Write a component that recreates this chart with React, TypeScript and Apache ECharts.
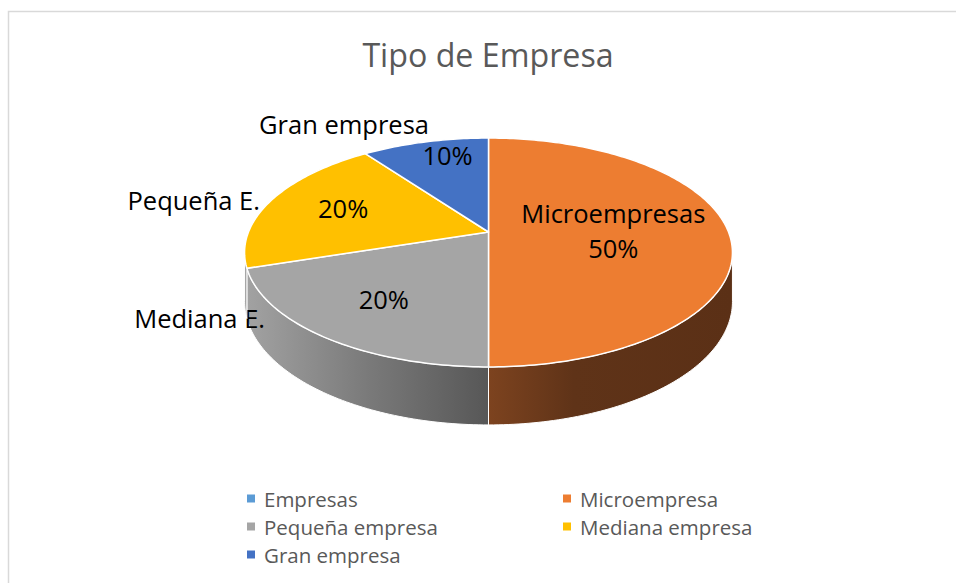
import React, { useEffect, useRef } from 'react';
import * as echarts from 'echarts';

// ---- data ----
const legendNames = ['Empresas', 'Microempresa', 'Pequeña empresa', 'Mediana empresa', 'Gran empresa'];
const values = [0, 50, 20, 20, 10];
const colors = ['#5B9BD5', '#ED7D31', '#A5A5A5', '#FFC000', '#4472C4'];
const labelNames = ['', 'Microempresas', 'Mediana E.', 'Pequeña E.', 'Gran empresa'];
const nameInside = [false, true, false, false, false];
const titleText = 'Tipo de Empresa';

// ---- style / layout ----
const FONT = '"Open Sans", sans-serif';
const CX = 488.5, CY = 232, RX = 240, RY = 110.8, K = 0.179, H = 47.6;
const sideStops: any[] = [
  [['#3d6b99', 0], ['#2a4d70', 1]],
  [['#7d431f', 0], ['#5f3318', 0.35], ['#5b3016', 1]],
  [['#a2a2a2', 0], ['#7a7a7a', 0.5], ['#575757', 1]],
  [['#a3a3a3', 0], ['#a0a0a0', 1]],
  [['#2c4a80', 0], ['#223a66', 1]],
];
const pctRadius = [0, 0.52, 0.67, 0.66, 0.83];
const pctShift = [[0, 0], [0, -2], [0, 0], [0, -2], [13, 0]];
const namePos: any[] = [null, null, { x: 265, y: 318, align: 'right' }, { x: 260, y: 200, align: 'right' }, { x: 344, y: 124, align: 'center' }];

const total = values.reduce((s, v) => s + v, 0);
const starts: number[] = [];
values.reduce((acc, v, i) => { starts[i] = acc; return acc + v; }, 0);

function proj(t: number, f: number, drop: number) {
  const X = f * Math.sin(t);
  const Z = f * Math.cos(t);
  const d = 1 + K * Z;
  return [CX + (RX * X) / d, CY - (RY * Z) / d + (drop * H) / d];
}

function renderItem(params: any, api: any) {
  const i = params.dataIndex;
  const v = api.value(0);
  if (!(v > 0)) return { type: 'group', children: [] };
  const t0 = (starts[i] / total) * Math.PI * 2;
  const t1 = ((starts[i] + v) / total) * Math.PI * 2;
  const children: any[] = [];

  // side wall
  const s0 = Math.acos(-K);
  const s1 = Math.PI * 2 - s0;
  const a0 = Math.max(t0, s0);
  const a1 = Math.min(t1, s1);
  if (a1 > a0) {
    const n = Math.max(2, Math.ceil((a1 - a0) / (Math.PI / 180)));
    const pts: number[][] = [];
    for (let j = 0; j <= n; j++) pts.push(proj(a0 + ((a1 - a0) * j) / n, 1, 0));
    for (let j = n; j >= 0; j--) pts.push(proj(a0 + ((a1 - a0) * j) / n, 1, 1));
    const xs = pts.map((p) => p[0]);
    const minX = Math.min(...xs), maxX = Math.max(...xs);
    const stops = sideStops[i].map((s: any) => ({ offset: s[1], color: s[0] }));
    children.push({
      type: 'polygon',
      shape: { points: pts },
      style: {
        fill: new echarts.graphic.LinearGradient(minX, 0, maxX, 0, stops, true),
        stroke: '#ffffff',
        lineWidth: 1,
        lineJoin: 'round',
      },
    });
  }

  // top face
  const n = Math.max(2, Math.ceil((t1 - t0) / (Math.PI / 180)));
  const top: number[][] = [[CX, CY]];
  for (let j = 0; j <= n; j++) top.push(proj(t0 + ((t1 - t0) * j) / n, 1, 0));
  children.push({
    type: 'polygon',
    shape: { points: top },
    style: { fill: colors[i], stroke: '#ffffff', lineWidth: 1.5, lineJoin: 'round' },
  });

  // percent label
  const tm = (t0 + t1) / 2;
  const lp = proj(tm, pctRadius[i], 0);
  const pct = Math.round((v / total) * 100) + '%';
  children.push({
    type: 'text',
    x: lp[0] + pctShift[i][0],
    y: lp[1] + pctShift[i][1],
    style: {
      text: nameInside[i] ? labelNames[i] + '\n' + pct : pct,
      fill: '#000000',
      fontSize: 25.5,
      fontFamily: FONT,
      align: 'center',
      verticalAlign: 'middle',
      lineHeight: 35,
    },
  });

  // outside category name
  if (!nameInside[i] && labelNames[i] && namePos[i]) {
    children.push({
      type: 'text',
      x: namePos[i].x,
      y: namePos[i].y,
      style: {
        text: labelNames[i],
        fill: '#000000',
        fontSize: 25.5,
        fontFamily: FONT,
        align: namePos[i].align,
        verticalAlign: 'middle',
      },
    });
  }
  return { type: 'group', children };
}

export default function App() {
  const ref = useRef<HTMLDivElement>(null);
  useEffect(() => {
    if (!ref.current) return;
    const chart = echarts.init(ref.current, null, { renderer: 'svg' });
    const legendText = { fontSize: 20.5, color: '#595959', fontFamily: FONT, lineHeight: 20, padding: [0, 0, 0, 4] };
    chart.setOption({
      animation: false,
      backgroundColor: '#ffffff',
      graphic: [
        {
          type: 'rect',
          silent: true,
          z: -10,
          shape: { x: 8.5, y: 11.5, width: 1000, height: 1000 },
          style: { fill: 'none', stroke: '#d9d9d9', lineWidth: 1.5 },
        },
        {
          type: 'text',
          x: 488,
          y: 54,
          style: {
            text: titleText,
            fill: '#595959',
            fontSize: 32.2,
            fontFamily: FONT,
            align: 'center',
            verticalAlign: 'middle',
          },
        },
      ],
      legend: [
        {
          data: [legendNames[0], legendNames[2], legendNames[4]],
          orient: 'vertical',
          left: 247,
          top: 488,
          padding: 0,
          icon: 'rect',
          itemWidth: 8,
          itemHeight: 8,
          itemGap: 7,
          selectedMode: false,
          textStyle: legendText,
        },
        {
          data: [legendNames[1], legendNames[3]],
          orient: 'vertical',
          left: 563,
          top: 488,
          padding: 0,
          icon: 'rect',
          itemWidth: 8,
          itemHeight: 8,
          itemGap: 7,
          selectedMode: false,
          textStyle: legendText,
        },
      ],
      series: [
        {
          type: 'pie',
          name: 'legend',
          radius: [0, 0],
          center: [-100, -100],
          silent: true,
          label: { show: false },
          labelLine: { show: false },
          data: legendNames.map((n, i) => ({ name: n, value: values[i], itemStyle: { color: colors[i] } })),
        },
        {
          type: 'custom',
          name: 'Tipo de Empresa',
          coordinateSystem: 'none',
          renderItem,
          data: values.map((v, i) => ({ name: legendNames[i], value: [v] })),
        },
      ],
    });
    return () => chart.dispose();
  }, []);
  return (
    <div
      ref={ref}
      style={{ position: 'absolute', left: 0, top: 0, width: 956, height: 583, background: '#fff' }}
    />
  );
}
